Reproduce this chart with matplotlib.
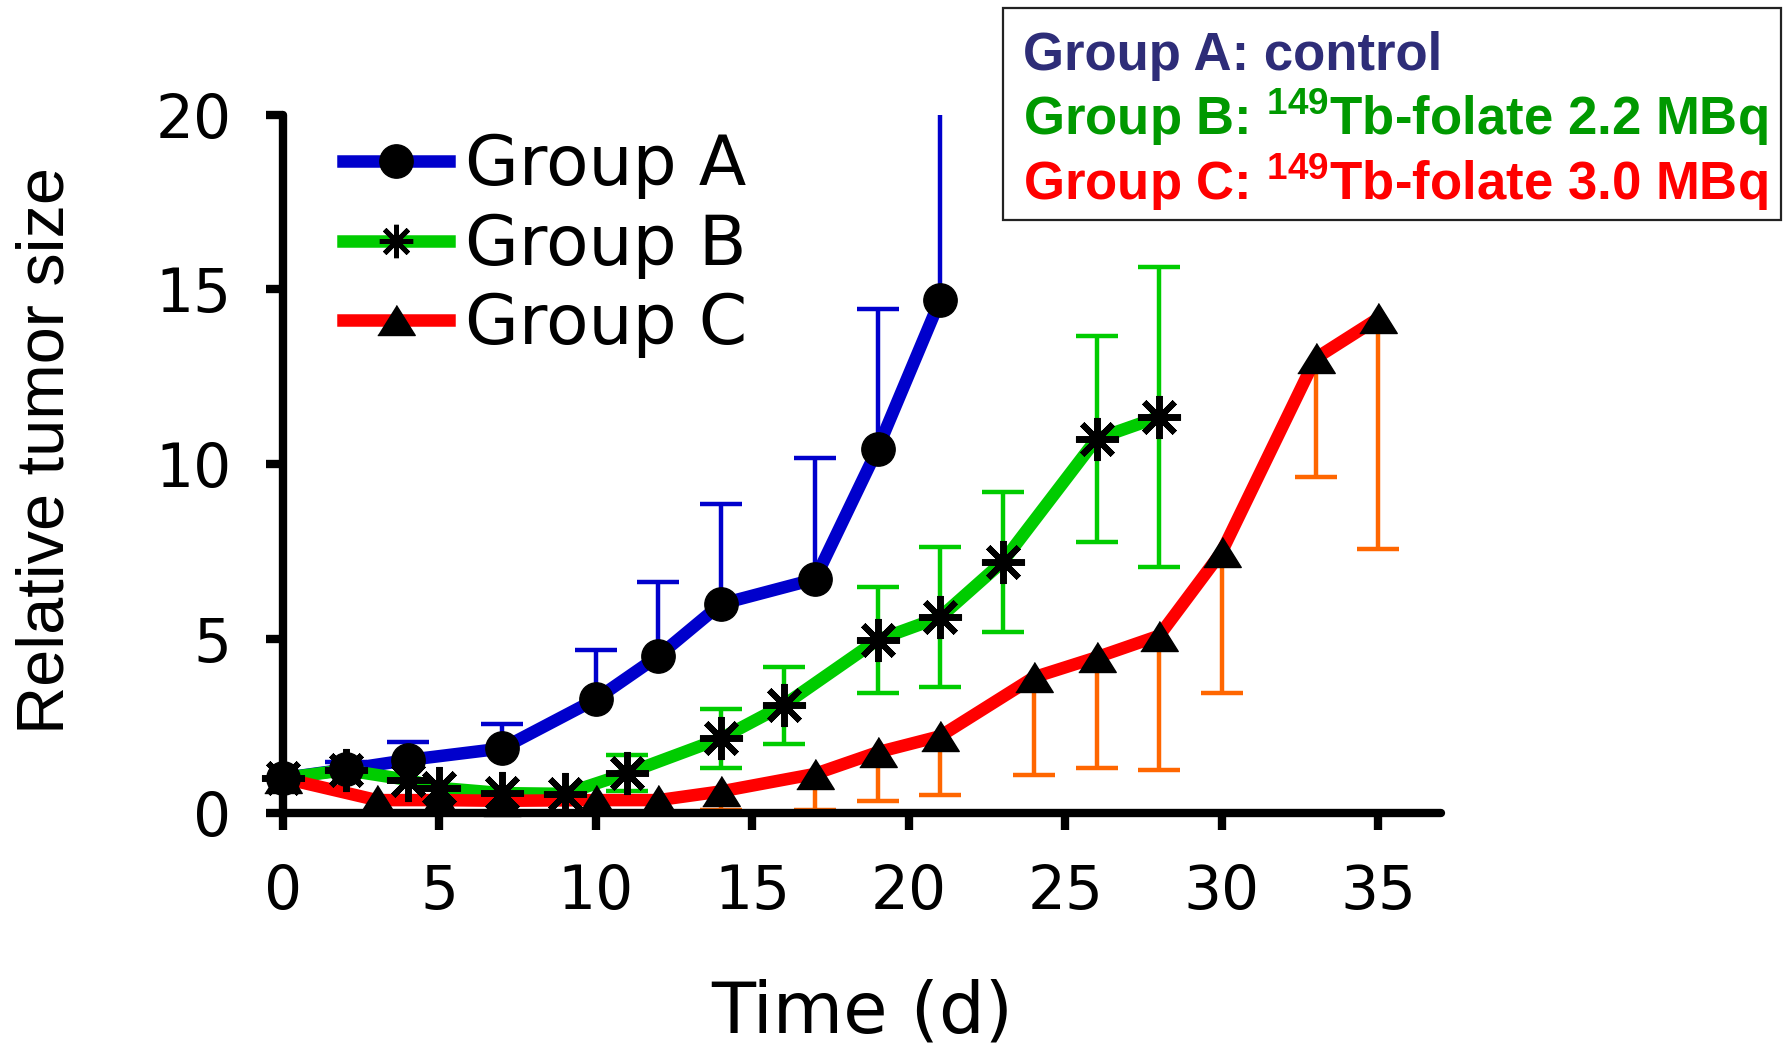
import numpy as np
import matplotlib
matplotlib.use("Agg")
import matplotlib.pyplot as plt
from matplotlib.lines import Line2D
from matplotlib.patches import Rectangle

# ---------------- data ----------------
days_a = [0, 2, 4, 7, 10, 12, 14, 17, 19, 21]
size_a = [1.0, 1.25, 1.52, 1.85, 3.26, 4.50, 5.99, 6.70, 10.43, 14.70]
err_a_up = [0, 0.22, 0.51, 0.70, 1.41, 2.11, 2.86, 3.48, 4.01, 6.0]

days_b = [0, 2, 4, 5, 7, 9, 11, 14, 16, 19, 21, 23, 26, 28]
size_b = [1.0, 1.23, 0.95, 0.72, 0.57, 0.55, 1.14, 2.14, 3.09, 4.96, 5.61, 7.20, 10.72, 11.35]
err_b = [0, 0, 0, 0, 0, 0, 0.51, 0.84, 1.10, 1.52, 2.0, 2.0, 2.95, 4.29]

days_c = [0, 3, 5, 7, 10, 12, 14, 17, 19, 21, 24, 26, 28, 30, 33, 35]
size_c = [1.0, 0.37, 0.37, 0.35, 0.37, 0.37, 0.62, 1.12, 1.74, 2.20, 3.89, 4.46, 5.08, 7.48, 13.03, 14.17]
err_c_down = [0, 0, 0, 0, 0, 0, 0.52, 1.04, 1.39, 1.68, 2.80, 3.18, 3.85, 4.03, 3.41, 6.60]

group_labels = ["Group A", "Group B", "Group C"]
box_lines = ["Group A: control",
             "Group B: $^{149}$Tb-folate 2.2 MBq",
             "Group C: $^{149}$Tb-folate 3.0 MBq"]
x_ticks = [0, 5, 10, 15, 20, 25, 30, 35]
y_ticks = [0, 5, 10, 15, 20]
x_label = "Time (d)"
y_label = "Relative tumor size"

# ---------------- style ----------------
plt.rcParams['font.family'] = ['DejaVu Sans']
plt.rcParams['mathtext.default'] = 'regular'

BLUE = '#0000CC'
GREEN = '#00CC00'
RED = '#FF0000'
ORANGE = '#FF6600'
LW = 9
ELW = 3.2
CAP_MS = 30

tri = [(-1.25, -1.0), (1.25, -1.0), (0.0, 1.0)]
star = (8, 2, 0)

fig = plt.figure(figsize=(17.9, 10.53), dpi=100)
ax = fig.add_axes([0.1581, 0.2279, 0.6468, 0.6629])

def arr(v):
    return np.asarray(v, dtype=float)

# --- error bars ---
xa, ya, ea = arr(days_a), arr(size_a), arr(err_a_up)
m = ea > 0
ax.vlines(xa[m], ya[m], ya[m] + ea[m], color=BLUE, lw=ELW, zorder=2)
ax.plot(xa[m], ya[m] + ea[m], ls='none', marker='_', ms=CAP_MS, mew=ELW,
        color=BLUE, zorder=2)

xb, yb, eb = arr(days_b), arr(size_b), arr(err_b)
m = eb > 0
ax.vlines(xb[m], yb[m] - eb[m], yb[m] + eb[m], color=GREEN, lw=ELW, zorder=2)
ax.plot(np.concatenate([xb[m], xb[m]]),
        np.concatenate([yb[m] - eb[m], yb[m] + eb[m]]),
        ls='none', marker='_', ms=CAP_MS, mew=ELW, color=GREEN, zorder=2)

xc, yc, ec = arr(days_c), arr(size_c), arr(err_c_down)
m = ec > 0
ax.vlines(xc[m], yc[m] - ec[m], yc[m], color=ORANGE, lw=ELW, zorder=2)
ax.plot(xc[m], yc[m] - ec[m], ls='none', marker='_', ms=CAP_MS, mew=ELW,
        color=ORANGE, zorder=2)

# --- lines ---
ax.plot(xa, ya, color=BLUE, lw=LW, zorder=3, clip_on=False, solid_capstyle='butt')
ax.plot(xb, yb, color=GREEN, lw=LW, zorder=3.1, clip_on=False, solid_capstyle='butt')
ax.plot(xc, yc, color=RED, lw=LW, zorder=3.2, clip_on=False, solid_capstyle='butt')

# --- markers ---
ax.plot(xa, ya, ls='none', marker='o', ms=24, color='black', zorder=4, clip_on=False)
ax.plot(xb, yb, ls='none', marker=star, ms=31, mew=4.3, color='black', zorder=4, clip_on=False)
ax.plot(xc, yc, ls='none', marker=tri, ms=27, color='black', zorder=4, clip_on=False)

# --- axes ---
ax.set_xlim(0, 37)
ax.set_ylim(0, 20)
ax.set_xticks(x_ticks)
ax.set_yticks(y_ticks)
for s in ['top', 'right']:
    ax.spines[s].set_visible(False)
for s in ['left', 'bottom']:
    ax.spines[s].set_linewidth(6)
    ax.spines[s].set_capstyle('round')
ax.tick_params(axis='both', direction='out', length=12, width=6, labelsize=43)
ax.tick_params(axis='x', pad=24)
ax.tick_params(axis='y', pad=25)

fig.text(0.4816, 0.019, x_label, fontsize=52, ha='center', va='baseline')
fig.text(0.0257, 0.5717, y_label, fontsize=48, rotation=90, ha='center', va='center',
         family=['Liberation Sans', 'DejaVu Sans'])

# --- legend ---
handles = [
    Line2D([], [], color=BLUE, lw=LW, marker='o', ms=24, mfc='black', mec='black'),
    Line2D([], [], color=GREEN, lw=LW, marker=star, ms=24, mew=3.5, mec='black'),
    Line2D([], [], color=RED, lw=LW, marker=tri, ms=27, mfc='black', mec='black'),
]
ax.legend(handles, group_labels, loc='upper left', bbox_to_anchor=(0.0514, 0.975),
          frameon=False, fontsize=50, handlelength=1.53, handletextpad=0.23,
          labelspacing=0.18, borderaxespad=0, borderpad=0)

# --- info box ---
fig.patches.append(Rectangle((0.5603, 0.7911), 0.4346, 0.2013, transform=fig.transFigure,
                             fill=False, ec='#222222', lw=1.6, figure=fig))
box_colors = ['#2E2D78', '#009900', '#FF0000']
box_y = [0.9335, 0.8718, 0.8101]
for txt, col, yy in zip(box_lines, box_colors, box_y):
    fig.text(0.5715, yy, txt, color=col, fontsize=38, fontweight='bold',
             family=['Liberation Sans', 'DejaVu Sans'], ha='left', va='baseline')

fig.savefig("out.png", dpi=100)
